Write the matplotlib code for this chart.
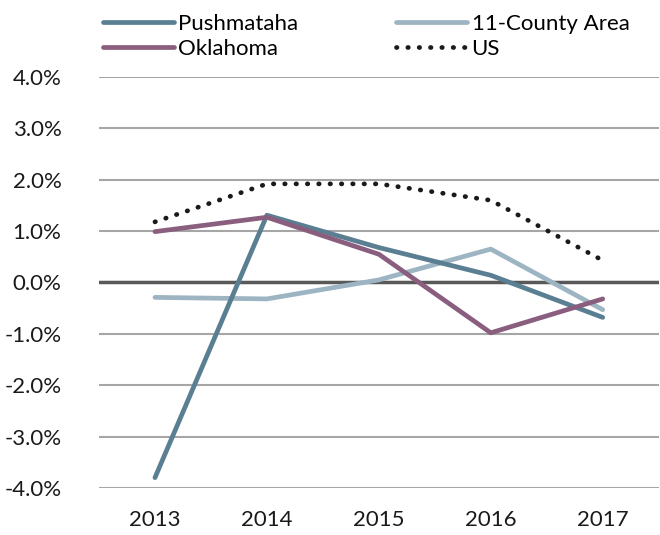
import matplotlib.pyplot as plt
from matplotlib.ticker import FuncFormatter

years = ["2013", "2014", "2015", "2016", "2017"]
pushmataha = [-3.80, 1.31, 0.68, 0.14, -0.68]
county11 = [-0.29, -0.32, 0.05, 0.65, -0.53]
oklahoma = [0.99, 1.27, 0.55, -0.98, -0.32]
us = [1.18, 1.92, 1.92, 1.60, 0.43]

plt.rcParams['font.family'] = ['Lato', 'DejaVu Sans']

fig = plt.figure(figsize=(6.6, 5.35), dpi=100)
ax = fig.add_axes([0.15, 0.088, 0.848, 0.768])

x = range(len(years))
ax.plot(x, pushmataha, color="#5B7F92", lw=3.4, solid_capstyle="round", label="Pushmataha", zorder=4)
ax.plot(x, county11, color="#9DB4C2", lw=3.4, solid_capstyle="round", label="11-County Area", zorder=3)
ax.plot(x, oklahoma, color="#8A5E7E", lw=3.4, solid_capstyle="round", label="Oklahoma", zorder=5)
ax.plot(x, us, color="#1a1a1a", lw=3.4, linestyle=(0, (0.1, 2.3)), dash_capstyle="round", label="US", zorder=6)

ax.set_xlim(-0.5, 4.5)
ax.set_ylim(-4, 4)
ax.set_yticks(range(-4, 5))
ax.yaxis.set_major_formatter(FuncFormatter(lambda v, p: f"{v:.1f}%"))
ax.set_xticks(list(x))
ax.set_xticklabels(years)
ax.grid(axis="y", color="#A6A6A6", lw=1.5)
ax.axhline(0, color="#595959", lw=2.5, zorder=2)
ax.set_axisbelow(True)
for s in ax.spines.values():
    s.set_visible(False)
ax.tick_params(length=0, labelsize=16, colors="#1a1a1a")
ax.tick_params(axis="y", pad=27)
ax.tick_params(axis="x", pad=16)

h, l = ax.get_legend_handles_labels()
order = [0, 2, 1, 3]
fig.legend([h[i] for i in order], [l[i] for i in order], ncol=2, loc="upper left",
           bbox_to_anchor=(0.125, 1.012), frameon=False, fontsize=16,
           handlelength=3.2, handletextpad=0.2, columnspacing=4.4, labelspacing=0.25)

plt.savefig("out.png", dpi=100)
